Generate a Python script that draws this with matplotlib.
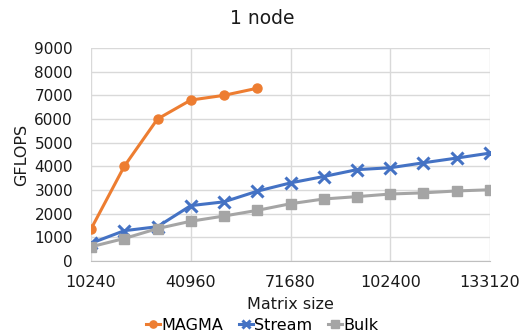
import matplotlib
matplotlib.use("Agg")
import matplotlib.pyplot as plt

plt.rcParams['font.family'] = ['DejaVu Sans']

# matrix sizes and measured GFLOPS
sizes = [10240, 20480, 30720, 40960, 51200, 61440, 71680,
         81920, 92160, 102400, 112640, 122880, 133120]
magma = [1350, 4000, 6000, 6800, 7000, 7300]
stream = [750, 1280, 1450, 2340, 2500, 2950, 3300,
          3570, 3860, 3940, 4150, 4350, 4560]
bulk = [600, 950, 1370, 1680, 1900, 2140, 2420,
        2620, 2720, 2830, 2880, 2960, 3010]
x_ticks = [10240, 40960, 71680, 102400, 133120]
y_ticks = list(range(0, 9001, 1000))

fig = plt.figure(figsize=(5.24, 3.34), dpi=100)
ax = fig.add_axes([91 / 524, 1 - 261 / 334, 399 / 524, 213 / 334])

ax.plot(sizes[:len(magma)], magma, color='#ED7D31', lw=2.2, marker='o',
        ms=6.5, label='MAGMA')
ax.plot(sizes, stream, color='#4472C4', lw=2.2, marker='x', ms=8,
        mew=2.2, label='Stream')
ax.plot(sizes, bulk, color='#A5A5A5', lw=2.2, marker='s', ms=7.5,
        label='Bulk')

ax.set_xlim(10240, 133120)
ax.set_ylim(0, 9000)
ax.set_xticks(x_ticks)
ax.set_yticks(y_ticks)
ax.grid(True, color='#D9D9D9', lw=1)
ax.set_axisbelow(True)
for s in ['top', 'right', 'left']:
    ax.spines[s].set_visible(False)
ax.spines['bottom'].set_color('#BFBFBF')
ax.tick_params(length=0, labelsize=11, colors='#1a1a1a')
ax.tick_params(axis='y', pad=13)
ax.tick_params(axis='x', pad=10, labelsize=11.5)

ax.set_xlabel('Matrix size', fontsize=11.5, color='#1a1a1a', labelpad=5)
ax.set_ylabel('GFLOPS', fontsize=11.5, color='#1a1a1a', labelpad=4)
fig.text(0.5, 1 - 19 / 334, '1 node', ha='center', va='center',
         fontsize=13.5, color='#1a1a1a')

fig.legend(loc='center', bbox_to_anchor=(0.5, 1 - 325 / 334), ncol=3,
           frameon=False, fontsize=11.5, handlelength=0.9, handletextpad=0.05,
           columnspacing=1.0, borderaxespad=0, borderpad=0, markerscale=0.8)

fig.savefig('out.png', dpi=100)
